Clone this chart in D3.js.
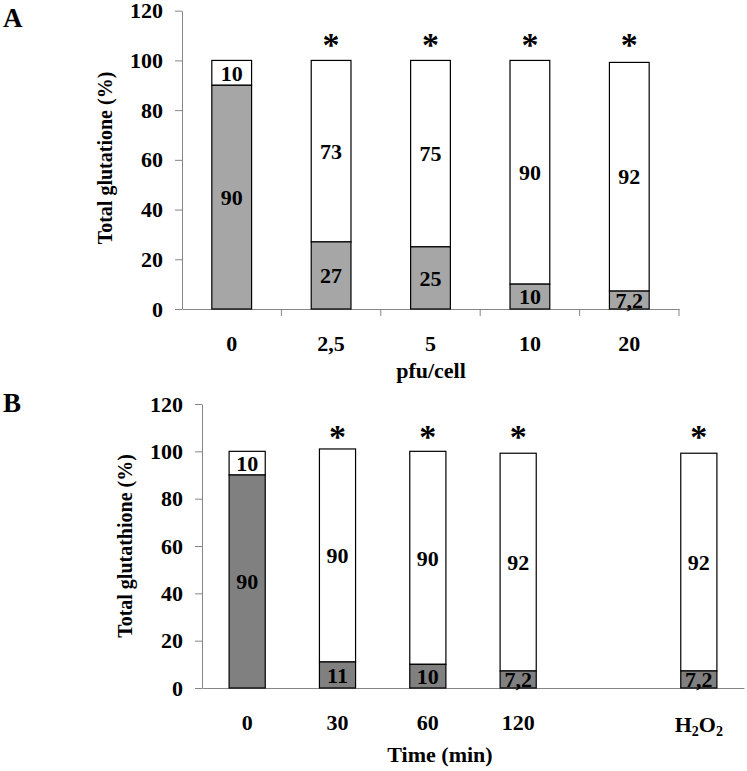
<!DOCTYPE html>
<html><head><meta charset="utf-8">
<script src="https://cdn.jsdelivr.net/npm/d3@7"></script>
<style>
body{margin:0;background:#fff;}
text{font-family:"Liberation Serif","Times New Roman",serif;font-weight:bold;fill:#000;}
</style></head>
<body><svg id="c" width="747" height="771"></svg>
<script>
// Panel A data
const catsA = ["0","2,5","5","10","20"];
const reducedA = [90,27,25,10,7.2];
const oxidizedA = [10,73,75,90,92];
const labelsReducedA = ["90","27","25","10","7,2"];
const labelsOxidizedA = ["10","73","75","90","92"];
const sigA = [false,true,true,true,true];
// Panel B data
const catsB = ["0","30","60","120","gap","H2O2"];
const reducedB = [90,11,10,7.2,null,7.2];
const oxidizedB = [10,90,90,92,null,92];
const labelsReducedB = ["90","11","10","7,2","","7,2"];
const labelsOxidizedB = ["10","90","90","92","","92"];
const sigB = [false,true,true,true,false,true];
const yTicks = [0,20,40,60,80,100,120];

const svg = d3.select("#c");
const axisColor = "#868686";

function panel(cfg){
  const g = svg.append("g");
  const x = d3.scaleBand().domain(cfg.cats).range(cfg.xr).padding(0);
  const y = d3.scaleLinear().domain([0,120]).range(cfg.yr);
  const bw = x.bandwidth()*cfg.barFrac;
  // y axis
  const ya = g.append("g").attr("transform",`translate(${cfg.xr[0]},0)`)
    .call(d3.axisLeft(y).tickValues(yTicks).tickSize(7).tickSizeOuter(0).tickPadding(12));
  ya.selectAll("path,line").attr("stroke",axisColor);
  ya.selectAll("text").style("font-size","22px").style("font-family","Liberation Serif").style("font-weight","bold").attr("fill","#000");
  // x axis
  const xa = g.append("g").attr("transform",`translate(0,${cfg.yr[0]})`)
    .call(d3.axisBottom(x).tickSize(0).tickSizeOuter(0).tickPadding(cfg.xPad)
      .tickFormat(d=> d==="gap"||d==="H2O2" ? "" : d));
  xa.selectAll("path").attr("stroke",axisColor);
  xa.selectAll("text").style("font-size","22px").style("font-family","Liberation Serif").style("font-weight","bold").attr("fill","#000");
  if(cfg.cats.includes("H2O2")){
    const t = g.append("text").attr("x",x("H2O2")+x.bandwidth()/2).attr("y",cfg.yr[0]+cfg.xPad+18)
      .attr("text-anchor","middle").style("font-size","22px");
    t.append("tspan").text("H");
    t.append("tspan").text("2").style("font-size","14px").attr("dy",4);
    t.append("tspan").text("O").attr("dy",-4);
    t.append("tspan").text("2").style("font-size","14px").attr("dy",4);
  }
  if(cfg.boundaryTicks){
    g.append("g").selectAll("line").data(cfg.cats).join("line")
      .attr("x1",d=>x(d)+x.bandwidth()).attr("x2",d=>x(d)+x.bandwidth())
      .attr("y1",cfg.yr[0]).attr("y2",cfg.yr[0]+7).attr("stroke",axisColor);
  }
  // bars
  const data = cfg.cats.map((c,i)=>({c,r:cfg.red[i],o:cfg.ox[i],lr:cfg.lr[i],lo:cfg.lo[i],s:cfg.sig[i]})).filter(d=>d.r!==null);
  const bg = g.append("g");
  bg.selectAll("rect.o").data(data).join("rect").attr("class","o")
    .attr("x",d=>x(d.c)+(x.bandwidth()-bw)/2).attr("width",bw)
    .attr("y",d=>y(d.r+d.o)).attr("height",d=>y(d.r)-y(d.r+d.o))
    .attr("fill","#fff").attr("stroke","#000").attr("stroke-width",1.2);
  bg.selectAll("rect.r").data(data).join("rect").attr("class","r")
    .attr("x",d=>x(d.c)+(x.bandwidth()-bw)/2).attr("width",bw)
    .attr("y",d=>y(d.r)).attr("height",d=>y(0)-y(d.r))
    .attr("fill",cfg.color).attr("stroke","#000").attr("stroke-width",1.2);
  bg.selectAll("text.lr").data(data).join("text").attr("class","lr")
    .attr("x",d=>x(d.c)+x.bandwidth()/2).attr("y",d=>y(d.r/2)).attr("dy","0.35em")
    .attr("text-anchor","middle").style("font-size","22px").text(d=>d.lr);
  bg.selectAll("text.lo").data(data).join("text").attr("class","lo")
    .attr("x",d=>x(d.c)+x.bandwidth()/2).attr("y",d=>y(d.r+d.o/2)).attr("dy","0.35em")
    .attr("text-anchor","middle").style("font-size","22px").text(d=>d.lo);
  bg.selectAll("text.s").data(data.filter(d=>d.s)).join("text").attr("class","s")
    .attr("x",d=>x(d.c)+x.bandwidth()/2).attr("y",y(110)).attr("dy","0.6em")
    .attr("text-anchor","middle").style("font-size","34px").text("*");
  // titles
  g.append("text").attr("transform",`translate(${cfg.ytX},${cfg.ytY}) rotate(-90)`)
    .attr("text-anchor","middle").style("font-size","20px").text(cfg.ytitle);
  g.append("text").attr("x",cfg.xtX).attr("y",cfg.xtY).attr("text-anchor","middle")
    .style("font-size","22px").text(cfg.xtitle);
  g.append("text").attr("x",cfg.pX).attr("y",cfg.pY).style("font-size","27px").text(cfg.plabel);
}

panel({cats:catsA,red:reducedA,ox:oxidizedA,lr:labelsReducedA,lo:labelsOxidizedA,sig:sigA,
  xr:[182,679],yr:[309,10.7],barFrac:0.4,color:"#a6a6a6",xPad:26,boundaryTicks:true,
  ytitle:"Total glutatione (%)",ytX:112,ytY:158,xtitle:"pfu/cell",xtX:431,xtY:378,plabel:"A",pX:3,pY:27});
panel({cats:catsB,red:reducedB,ox:oxidizedB,lr:labelsReducedB,lo:labelsOxidizedB,sig:sigB,
  xr:[202,744],yr:[688,404],barFrac:0.4,color:"#808080",xPad:26,boundaryTicks:false,
  ytitle:"Total glutathione (%)",ytX:132,ytY:546,xtitle:"Time (min)",xtX:440,xtY:762,plabel:"B",pX:3,pY:412});
</script></body></html>
